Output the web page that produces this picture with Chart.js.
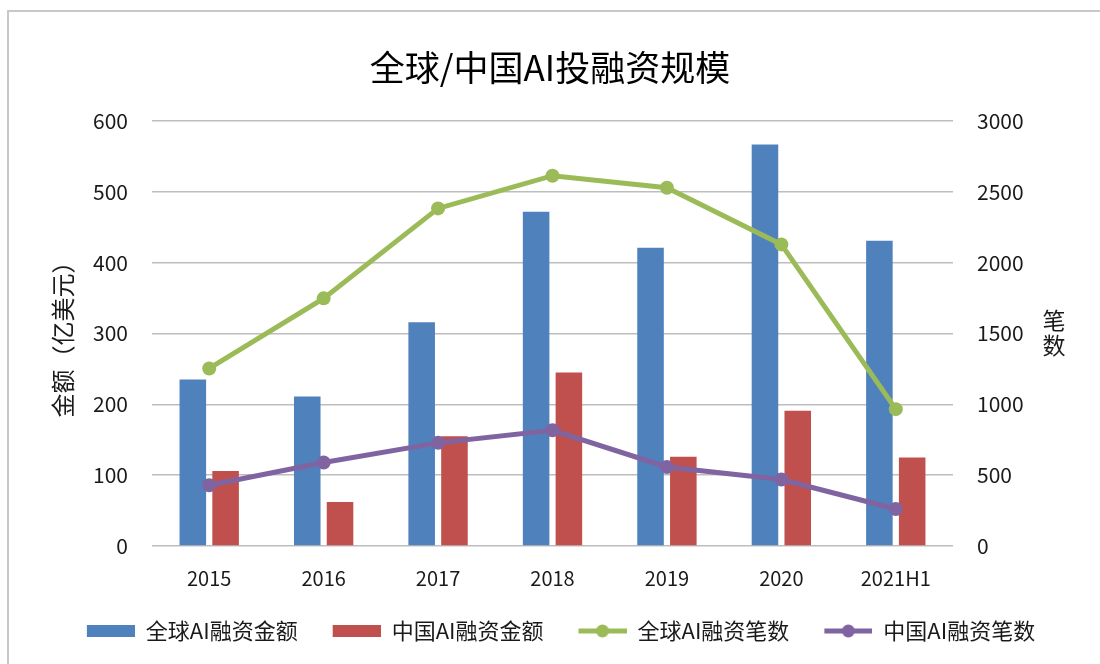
<!DOCTYPE html>
<html>
<head>
<meta charset="utf-8">
<script src="https://cdn.jsdelivr.net/npm/chart.js@4/dist/chart.umd.min.js"></script>
<style>
  html, body { margin: 0; padding: 0; background: #ffffff; }
  #wrap { width: 1100px; height: 664px; position: relative; }
</style>
</head>
<body>
<div id="wrap"><canvas id="c" width="1100" height="664"></canvas></div>
<script>
const categories = ['2015', '2016', '2017', '2018', '2019', '2020', '2021H1'];
const globalAmount = [235, 211, 316, 472, 421, 567, 431];
const chinaAmount = [106, 62, 155, 245, 126, 191, 125];
const globalCount = [1253, 1748, 2383, 2614, 2529, 2129, 966];
const chinaCount = [429, 589, 728, 817, 558, 469, 261];
const leftTicks = [0, 100, 200, 300, 400, 500, 600];
const rightTicks = [0, 500, 1000, 1500, 2000, 2500, 3000];
const seriesNames = ['全球AI融资金额', '中国AI融资金额', '全球AI融资笔数', '中国AI融资笔数'];
const chartTitle = '全球/中国AI投融资规模';
const leftAxisTitle = '金额（亿美元）';
const rightAxisTitle = ['笔', '数'];

const FONT = '"Noto Sans CJK SC", "Noto Sans", sans-serif';
const BLUE = '#4f81bd', RED = '#c0504d', GREEN = '#9bbb59', PURPLE = '#8064a2';
const LEAD = 22; // blank space before each legend icon

function boxIcon(color) {
  const cv = document.createElement('canvas');
  cv.width = LEAD + 48; cv.height = 14;
  const g = cv.getContext('2d');
  g.fillStyle = color; g.fillRect(LEAD, 1, 48, 12);
  return cv;
}
function lineIcon(color) {
  const cv = document.createElement('canvas');
  cv.width = LEAD + 48; cv.height = 16;
  const g = cv.getContext('2d');
  g.strokeStyle = color; g.lineWidth = 5;
  g.beginPath(); g.moveTo(LEAD, 8); g.lineTo(LEAD + 48, 8); g.stroke();
  g.fillStyle = color;
  g.beginPath(); g.arc(LEAD + 24, 8, 6.5, 0, Math.PI * 2); g.fill();
  return cv;
}
const icons = [boxIcon(BLUE), boxIcon(RED), lineIcon(GREEN), lineIcon(PURPLE)];

const frame = {
  id: 'frame',
  beforeDraw(chart) {
    const ctx = chart.ctx;
    ctx.save();
    ctx.fillStyle = '#ffffff';
    ctx.fillRect(0, 0, chart.width, chart.height);
    ctx.strokeStyle = '#c8c8c8';
    ctx.lineWidth = 2;
    ctx.strokeRect(8, 11, 2000, 2000);
    ctx.restore();
  },
  afterDraw(chart) {
    const ctx = chart.ctx;
    const y1 = chart.scales.y1;
    const cy = (y1.top + y1.bottom) / 2;
    ctx.save();
    ctx.fillStyle = '#1a1a1a';
    ctx.font = '23px ' + FONT;
    ctx.textAlign = 'center';
    ctx.textBaseline = 'middle';
    ctx.fillText(rightAxisTitle[0], 1054, cy - 13);
    ctx.fillText(rightAxisTitle[1], 1054, cy + 12);
    ctx.restore();
  }
};

new Chart(document.getElementById('c'), {
  type: 'bar',
  data: {
    labels: categories,
    datasets: [
      { type: 'bar', label: seriesNames[0], data: globalAmount, backgroundColor: BLUE, yAxisID: 'y', order: 2,
        categoryPercentage: 0.573, barPercentage: 0.81 },
      { type: 'bar', label: seriesNames[1], data: chinaAmount, backgroundColor: RED, yAxisID: 'y', order: 2,
        categoryPercentage: 0.573, barPercentage: 0.81 },
      { type: 'line', label: seriesNames[2], data: globalCount, borderColor: GREEN, backgroundColor: GREEN,
        borderWidth: 5, pointRadius: 7, pointBorderWidth: 0, pointBackgroundColor: GREEN, yAxisID: 'y1', order: 1, tension: 0 },
      { type: 'line', label: seriesNames[3], data: chinaCount, borderColor: PURPLE, backgroundColor: PURPLE,
        borderWidth: 5, pointRadius: 7, pointBorderWidth: 0, pointBackgroundColor: PURPLE, yAxisID: 'y1', order: 1, tension: 0 }
    ]
  },
  options: {
    responsive: false,
    animation: false,
    devicePixelRatio: 1,
    layout: { padding: { top: 0, left: 0, right: 0, bottom: 12 } },
    plugins: {
      tooltip: { enabled: false },
      title: {
        display: true, text: chartTitle, color: '#000000',
        font: { family: FONT, size: 35, weight: 'normal' },
        padding: { top: 47, bottom: 32 }
      },
      legend: {
        position: 'bottom',
        labels: {
          font: { family: FONT, size: 22 },
          color: '#1a1a1a',
          usePointStyle: true,
          pointStyleWidth: LEAD + 48,
          boxHeight: 14,
          padding: 13,
          generateLabels(chart) {
            return chart.data.datasets.map((ds, i) => ({
              text: ds.label, pointStyle: icons[i], fillStyle: 'transparent', strokeStyle: 'transparent',
              lineWidth: 0, hidden: false, datasetIndex: i, fontColor: '#1a1a1a'
            }));
          }
        }
      }
    },
    scales: {
      x: {
        offset: true,
        grid: { display: false },
        border: { display: false },
        ticks: { color: '#1a1a1a', font: { family: FONT, size: 20 }, padding: 12, maxRotation: 0 },
        afterFit(s) { s.height = 61; }
      },
      y: {
        position: 'left', min: 0, max: 600,
        afterBuildTicks(s) { s.ticks = leftTicks.map(v => ({ value: v })); },
        grid: { color: '#bdbdbd', lineWidth: 1.5, drawTicks: false },
        border: { display: false },
        ticks: { color: '#1a1a1a', font: { family: FONT, size: 21 }, padding: 24 },
        title: { display: true, text: leftAxisTitle, color: '#1a1a1a', font: { family: FONT, size: 24 }, padding: { top: 48, bottom: 0 } },
        afterFit(s) { s.width = 152; }
      },
      y1: {
        position: 'right', min: 0, max: 3000,
        afterBuildTicks(s) { s.ticks = rightTicks.map(v => ({ value: v })); },
        grid: { display: false, drawTicks: false },
        border: { display: false },
        ticks: { color: '#1a1a1a', font: { family: FONT, size: 21 }, padding: 24, callback: v => String(v) },
        afterFit(s) { s.width = 147; }
      }
    }
  },
  plugins: [frame]
});
</script>
</body>
</html>
